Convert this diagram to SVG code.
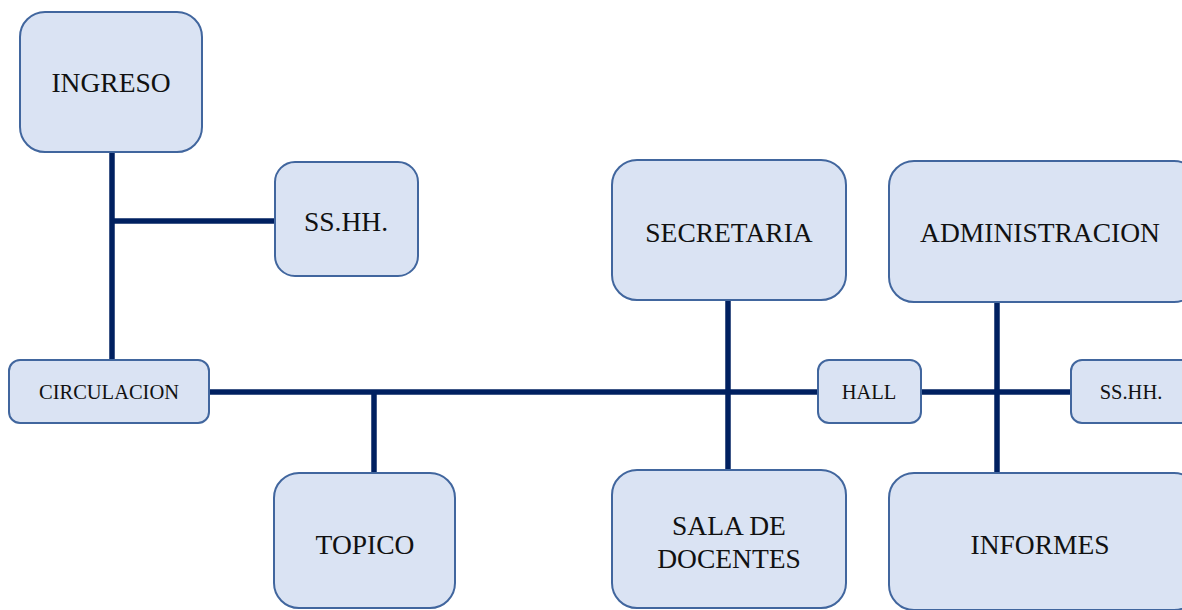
<svg xmlns="http://www.w3.org/2000/svg" width="1182" height="610" viewBox="0 0 1182 610">
<style>
.box{fill:#dae3f3;stroke:#41669e;stroke-width:2}
.t{font-family:"Liberation Serif","Times New Roman",serif;fill:#111;text-anchor:middle}
.big{font-size:27.5px}
.sm{font-size:20.5px}
.c{stroke:#002060;stroke-width:5.5;fill:none}
</style>
<rect width="1182" height="610" fill="#ffffff"/>
<g id="connectors">
<line class="c" x1="112" y1="152" x2="112" y2="361"/>
<line class="c" x1="112" y1="221" x2="275" y2="221"/>
<line class="c" x1="209" y1="392" x2="818" y2="392"/>
<line class="c" x1="374" y1="392" x2="374" y2="473"/>
<line class="c" x1="728" y1="300" x2="728" y2="470"/>
<line class="c" x1="921" y1="392" x2="1071" y2="392"/>
<line class="c" x1="997" y1="302" x2="997" y2="473"/>
</g>
<g id="ingreso"><rect class="box" x="20" y="12" width="182" height="140" rx="25"/><text class="t big" x="111" y="92">INGRESO</text></g>
<g id="sshh1"><rect class="box" x="275" y="162" width="143" height="114" rx="20"/><text class="t big" x="346" y="231">SS.HH.</text></g>
<g id="secretaria"><rect class="box" x="612" y="160" width="234" height="140" rx="25"/><text class="t big" x="729" y="242">SECRETARIA</text></g>
<g id="administracion"><rect class="box" x="889" y="161" width="310" height="141" rx="25"/><text class="t big" x="1040" y="242">ADMINISTRACION</text></g>
<g id="circulacion"><rect class="box" x="9" y="360" width="200" height="63" rx="11"/><text class="t sm" x="109" y="399">CIRCULACION</text></g>
<g id="hall"><rect class="box" x="818" y="360" width="103" height="63" rx="11"/><text class="t sm" x="869" y="399">HALL</text></g>
<g id="sshh2"><rect class="box" x="1071" y="360" width="125" height="63" rx="11"/><text class="t sm" x="1131" y="399">SS.HH.</text></g>
<g id="topico"><rect class="box" x="274" y="473" width="181" height="135" rx="25"/><text class="t big" x="365" y="554">TOPICO</text></g>
<g id="sala"><rect class="box" x="612" y="470" width="234" height="138" rx="25"/><text class="t big" x="729" y="535">SALA DE</text><text class="t big" x="729" y="568">DOCENTES</text></g>
<g id="informes"><rect class="box" x="889" y="473" width="310" height="137" rx="25"/><text class="t big" x="1040" y="554">INFORMES</text></g>
</svg>
